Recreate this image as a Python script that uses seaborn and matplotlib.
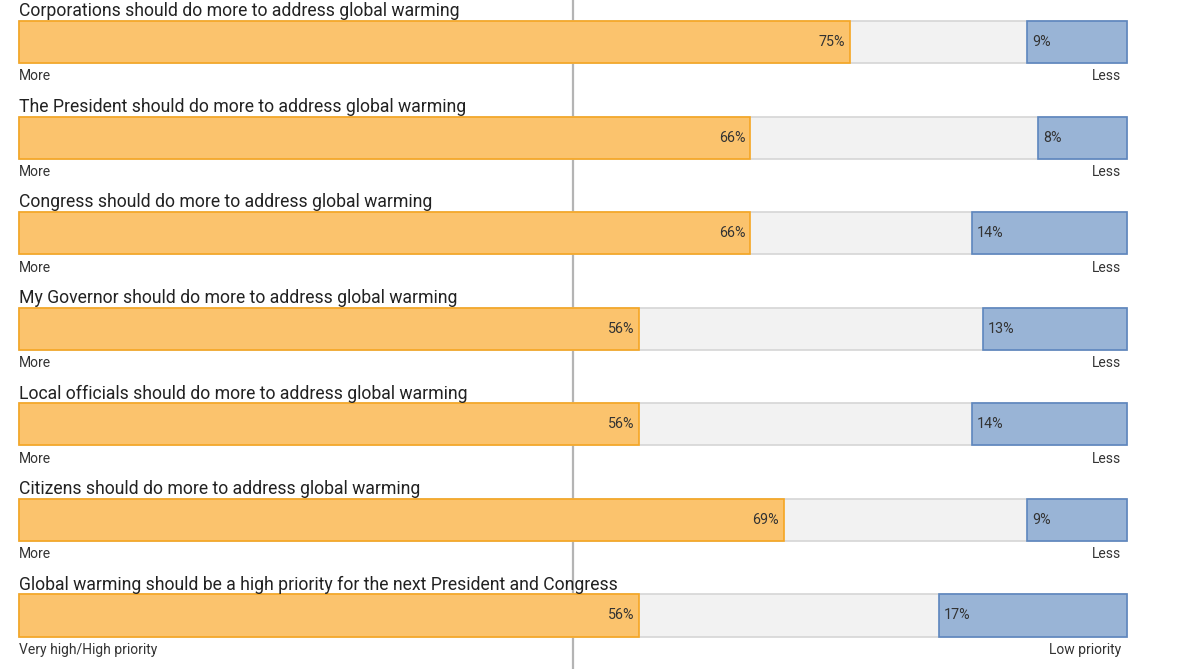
import pandas as pd
import matplotlib
matplotlib.use("Agg")
import matplotlib.pyplot as plt
import seaborn as sns

# Data
questions = [
    "Corporations should do more to address global warming",
    "The President should do more to address global warming",
    "Congress should do more to address global warming",
    "My Governor should do more to address global warming",
    "Local officials should do more to address global warming",
    "Citizens should do more to address global warming",
    "Global warming should be a high priority for the next President and Congress",
]
more_pct = [75, 66, 66, 56, 56, 69, 56]
less_pct = [9, 8, 14, 13, 14, 9, 17]
left_labels = ["More"] * 6 + ["Very high/High priority"]
right_labels = ["Less"] * 6 + ["Low priority"]

ORANGE, ORANGE_EDGE = "#fbc36d", "#f5a623"
GREY, GREY_EDGE = "#f2f2f2", "#d6d6d6"
BLUE, BLUE_EDGE = "#99b4d6", "#5d86be"
TEXT = "#333333"


def main():
    sns.set_style("white")
    plt.rcParams["font.family"] = ["Roboto", "DejaVu Sans"]

    df = pd.DataFrame({"question": questions, "more": more_pct, "less": less_pct})
    df["total"] = 100
    df["less_start"] = 100 - df["less"]

    fig = plt.figure(figsize=(12, 6.69), dpi=100)
    ax = fig.add_axes([0, 0, 1, 1])

    bar_h = 0.44
    # full-width grey background bar
    sns.barplot(data=df, x="total", y="question", orient="h", color=GREY,
                edgecolor=GREY_EDGE, linewidth=1.2, width=bar_h,
                saturation=1, ax=ax, zorder=2)
    # "less" segment on the right
    ax.barh(range(len(df)), df["less"], left=df["less_start"], height=bar_h,
            color=BLUE, edgecolor=BLUE_EDGE, linewidth=1.2, zorder=3)
    # "more" segment from the left
    sns.barplot(data=df, x="more", y="question", orient="h", color=ORANGE,
                edgecolor=ORANGE_EDGE, linewidth=1.2, width=bar_h,
                saturation=1, ax=ax, zorder=4)

    # px 19 -> 0, px 1127 -> 100 ; row centres every ~95.6px starting at 42px
    ax.set_xlim(-1.715, 106.59)
    ax.set_ylim(6.56, -0.44)
    ax.axvline(50, color="#b4b4b4", linewidth=1.6, zorder=1)

    for i, row in df.iterrows():
        ax.text(0, i - 0.27, row["question"], fontsize=12.7, color="#222222",
                va="baseline", ha="left", zorder=6)
        ax.text(0, i + 0.36, left_labels[i], fontsize=10, color=TEXT,
                va="center", ha="left")
        ax.text(99.45, i + 0.36, right_labels[i], fontsize=10, color=TEXT,
                va="center", ha="right")
        ax.text(row["more"] - 0.45, i, f"{row['more']}%", fontsize=10.3,
                color=TEXT, va="center", ha="right", zorder=6)
        ax.text(row["less_start"] + 0.45, i, f"{row['less']}%", fontsize=10.3,
                color=TEXT, va="center", ha="left", zorder=6)

    ax.set_axis_off()
    fig.savefig("out.png", dpi=100)
    plt.close(fig)


if __name__ == "__main__":
    main()
